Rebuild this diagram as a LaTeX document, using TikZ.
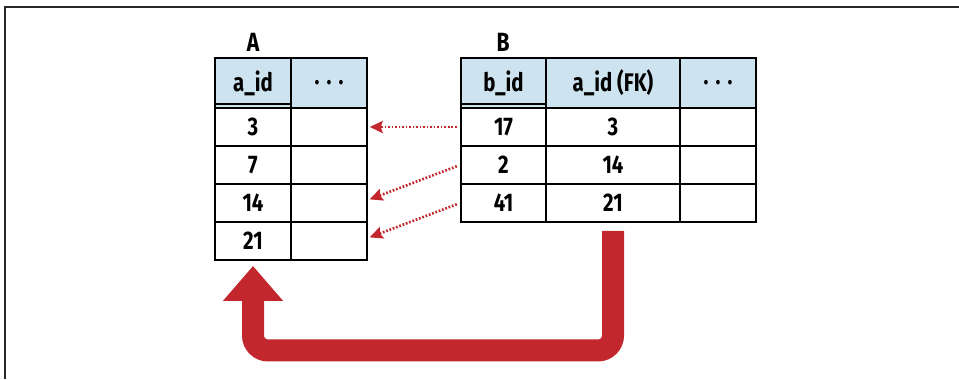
\documentclass[tikz,border=0pt]{standalone}
\usepackage{fontspec}
\setmainfont{Fira Sans}[FakeStretch=0.8]
\usetikzlibrary{arrows.meta}
\definecolor{headblue}{RGB}{206,227,240}
\definecolor{fkred}{RGB}{193,39,45}
\definecolor{framegray}{RGB}{40,40,40}
\newcommand{\moredots}{.\hspace{0.28em}.\hspace{0.28em}.}
\begin{document}
\begin{tikzpicture}[x=0.02cm, y=-0.02cm,
	cell/.style={draw, line width=1.1pt, minimum height=0.76cm, inner sep=0pt, font=\bfseries\fontsize{14.5}{16}\selectfont},
	head/.style={cell, fill=headblue, minimum height=1cm},
	tablabel/.style={font=\bfseries\fontsize{15}{17}\selectfont},
	fkarrow/.style={fkred, line width=1.5pt, dash pattern=on 1pt off 1pt, -{Stealth[length=0.26cm, width=0.24cm, inset=0.04cm]}, shorten <=2pt, shorten >=1pt},
	bigarrow/.style={fkred, line width=0.44cm, rounded corners=0.3cm, -{Triangle[length=0.7cm, width=1.16cm]}}]
%	\draw[help lines] (0,0) grid[step=50] (959,379);
	\useasboundingbox (0,0) rectangle (959,379);
	\draw[framegray, line width=0.8pt] (5,379) -- (5,7) -- (959,7);
	% table A
	\node[tablabel] (labA) at (253,42) {A};
	\node[head, minimum width=1.52cm] (a-h1) at (253,83) {a\_id};
	\node[head, minimum width=1.52cm] (a-h2) at (329,83) {\moredots};
	\node[cell, minimum width=1.52cm] (a-11) at (253,127) {3};
	\node[cell, minimum width=1.52cm] (a-12) at (329,127) {};
	\node[cell, minimum width=1.52cm] (a-21) at (253,165) {7};
	\node[cell, minimum width=1.52cm] (a-22) at (329,165) {};
	\node[cell, minimum width=1.52cm] (a-31) at (253,203) {14};
	\node[cell, minimum width=1.52cm] (a-32) at (329,203) {};
	\node[cell, minimum width=1.52cm] (a-41) at (253,241) {21};
	\node[cell, minimum width=1.52cm] (a-42) at (329,241) {};
	\draw[line width=0.8pt] ([yshift=0.1cm]a-h1.south west) -- ([yshift=0.1cm]a-h1.south east);
	% table B
	\node[tablabel] (labB) at (503,42) {B};
	\node[head, minimum width=1.7cm] (b-h1) at (503.5,83) {b\_id};
	\node[head, minimum width=2.68cm] (b-h2) at (613,83) {a\_id (FK)};
	\node[head, minimum width=1.52cm] (b-h3) at (718,83) {\moredots};
	\node[cell, minimum width=1.7cm] (b-11) at (503.5,127) {17};
	\node[cell, minimum width=2.68cm] (b-12) at (613,127) {3};
	\node[cell, minimum width=1.52cm] (b-13) at (718,127) {};
	\node[cell, minimum width=1.7cm] (b-21) at (503.5,165) {2};
	\node[cell, minimum width=2.68cm] (b-22) at (613,165) {14};
	\node[cell, minimum width=1.52cm] (b-23) at (718,165) {};
	\node[cell, minimum width=1.7cm] (b-31) at (503.5,203) {41};
	\node[cell, minimum width=2.68cm] (b-32) at (613,203) {21};
	\node[cell, minimum width=1.52cm] (b-33) at (718,203) {};
	\draw[line width=0.8pt] ([yshift=0.1cm]b-h1.south west) -- ([yshift=0.1cm]b-h1.south east);
	% foreign keys
	\draw[fkarrow] (b-11.west) -- (a-12.east);
	\draw[fkarrow] (b-21.west) -- ([yshift=0.06cm]a-32.east);
	\draw[fkarrow] (b-31.west) -- ([yshift=0.06cm]a-42.east);
	\draw[bigarrow] ([yshift=-0.16cm]b-32.south) |- ([yshift=-1.79cm]a-41.south) -- ([yshift=-0.1cm]a-41.south);
\end{tikzpicture}
\end{document}
